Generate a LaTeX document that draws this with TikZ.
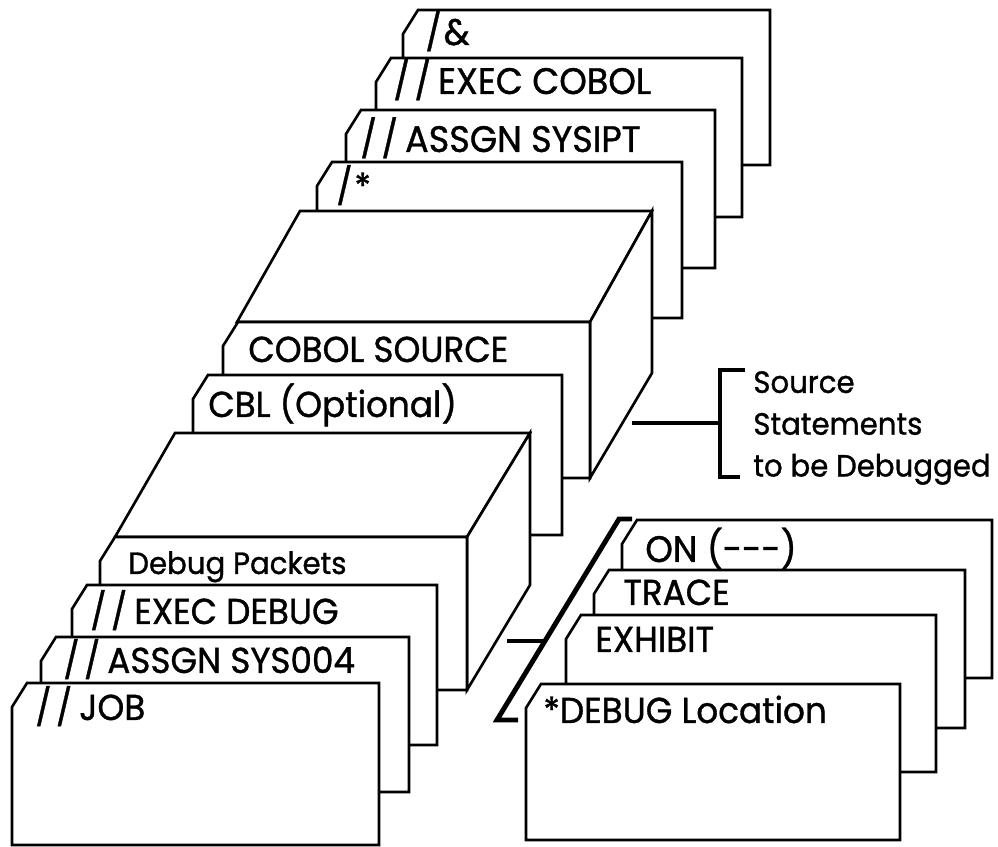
\documentclass[tikz,border=0pt]{standalone}
\usepackage{fontspec}
\setmainfont{Poppins}[FakeStretch=0.95, FakeBold=1]
\tikzset{card/.style={draw, fill=white, line width=1.5pt, line join=miter}}
\tikzset{brace/.style={draw, line width=2.8pt}}
\tikzset{lbl/.style={anchor=base west, inner sep=0pt, font=\fontsize{20.5}{24}\selectfont}}
\tikzset{smalllbl/.style={lbl, font=\fontsize{17.5}{23.8}\selectfont}}
\tikzset{biglbl/.style={lbl, font=\fontsize{21}{25}\selectfont}}
% card with clipped top-left corner: left, top, right, bottom
\newcommand{\card}[4]{\path[card] (#1,#4) -- (#1,#2+24) -- (#1+15,#2) -- (#3,#2) -- (#3,#4) -- cycle;}
\newcommand{\dsl}{/\kern2.5pt/\kern4pt}

\begin{document}
\begin{tikzpicture}[x=0.02cm, y=-0.02cm]
  \useasboundingbox (0,0) rectangle (998,847);
  % back cards
  \card{403}{10}{770}{165}
  \node[biglbl] (amp) at (425,45) {/\kern1pt\&};
  \card{376}{58}{742}{217}
  \node[biglbl] (execcobol) at (393,94) {\dsl EXEC COBOL};
  \card{346}{110}{715}{268}
  \node[biglbl] (assgnipt) at (360,152) {\dsl ASSGN SYSIPT};
  \card{317}{162}{682}{318}
  \node[lbl] (star) at (336,199) {/\kern1pt*};

  % source deck
  \path[card] (237,322) -- (300,211) -- (652,211) -- (590,322) -- cycle;
  \path[card] (590,322) -- (652,211) -- (652,373) -- (590,478) -- cycle;
  \card{223}{322}{590}{478}
  \node[lbl] (cobolsrc) at (248,362) {COBOL SOURCE};
  \card{193}{375}{562}{535}
  \node[lbl] (cbl) at (208,417) {CBL (Optional)};

  % debug deck
  \path[card] (115,537) -- (175,433) -- (530,433) -- (467,537) -- cycle;
  \path[card] (467,537) -- (530,433) -- (530,585) -- (467,690) -- cycle;
  \card{100}{537}{467}{690}
  \node[smalllbl] (packets) at (128,574) {Debug Packets};
  \card{72}{585}{437}{745}
  \node[lbl] (execdebug) at (90,624) {\dsl EXEC DEBUG};
  \card{41}{637}{409}{792}
  \node[lbl] (assgn004) at (63,673) {\dsl ASSGN SYS004};
  \card{12}{683}{379}{845}
  \node[lbl] (job) at (35,720) {\dsl JOB};

  % packet cards
  \card{622}{520}{992}{678}
  \node[biglbl] (on) at (645,562) {ON (-{}-{}-)};
  \card{594}{570}{965}{728}
  \node[lbl] (trace) at (623,605) {TRACE};
  \card{566}{615}{936}{772}
  \node[lbl] (exhibit) at (595,652) {EXHIBIT};
  \card{526}{684}{900}{840}
  \node[lbl] (dbgloc) at (543,723) {*DEBUG Location};

  % brackets
  \coordinate (srcface) at (632,423);
  \coordinate (srcmid) at (720,423);
  \path[brace] (745,370) -- (720,370) -- (720,477) -- (740,477);
  \path[brace] (srcface) -- (srcmid);
  \node[smalllbl, align=left, anchor=west] (srctxt) at (753,428) {Source\\Statements\\to be Debugged};

  \coordinate (pktface) at (507,641);
  \coordinate (pktmid) at (545,641);
  \path[brace] (632,519) -- (619,519) -- (497,720) -- (518,720);
  \path[brace] (pktface) -- (pktmid);
\end{tikzpicture}
\end{document}
